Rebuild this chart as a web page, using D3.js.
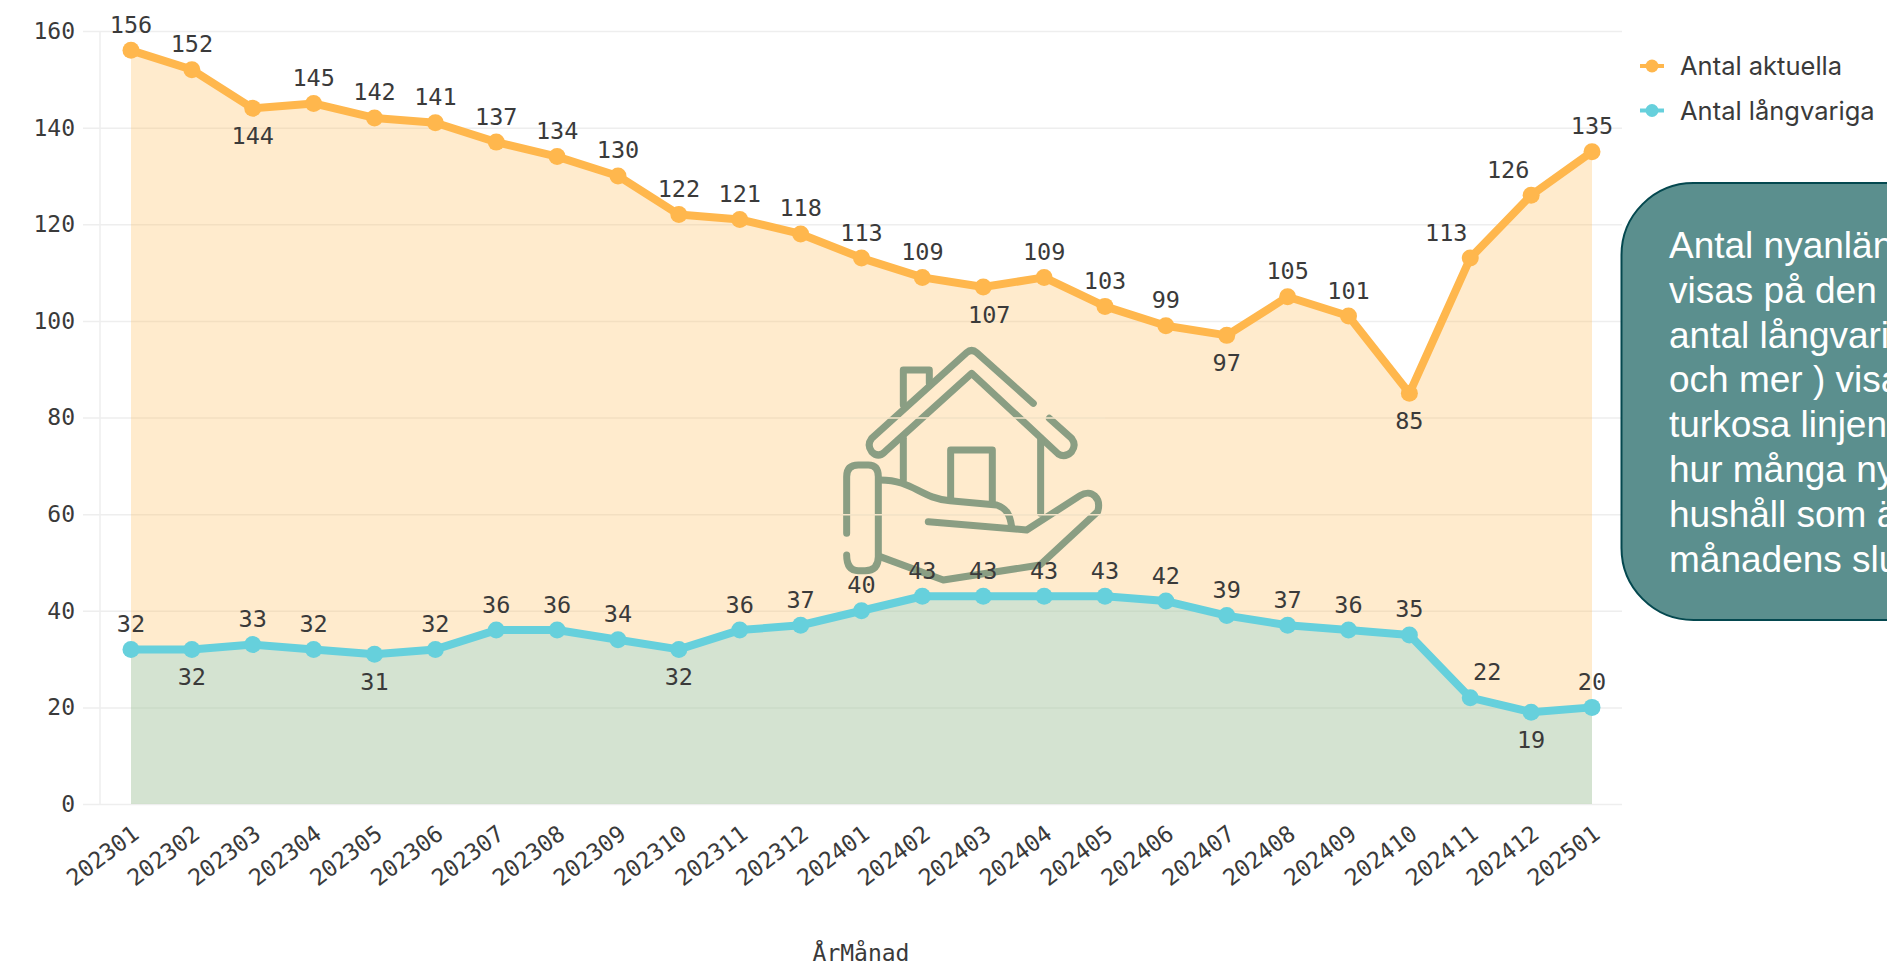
<!DOCTYPE html>
<html>
<head>
<meta charset="utf-8">
<script src="https://cdn.jsdelivr.net/npm/d3@7"></script>
<style>
  html, body { margin: 0; background: #fff; overflow: hidden; }
  text { font-family: "DejaVu Sans Mono", monospace; fill: #3a3a3a; }
</style>
</head>
<body>
<div class="line-chart"></div>
<script>
var months = ["202301", "202302", "202303", "202304", "202305", "202306", "202307", "202308", "202309", "202310", "202311", "202312",
              "202401", "202402", "202403", "202404", "202405", "202406", "202407", "202408", "202409", "202410", "202411", "202412", "202501"];
var current = [156, 152, 144, 145, 142, 141, 137, 134, 130, 122, 121, 118, 113, 109, 107, 109, 103, 99, 97, 105, 101, 85, 113, 126, 135];
var longTerm = [32, 32, 33, 32, 31, 32, 36, 36, 34, 32, 36, 37, 40, 43, 43, 43, 43, 42, 39, 37, 36, 35, 22, 19, 20];
var yTicks = [0, 20, 40, 60, 80, 100, 120, 140, 160];
var seriesNames = ["Antal aktuella", "Antal långvariga"];

// months where the value label sits under the point
var belowCurrent = ["202303", "202403", "202407", "202410"];
var belowLong = ["202302", "202305", "202310", "202412"];

var noteLines = ["Antal nyanlända", "visas på den", "antal långvariga", "och mer ) visas", "turkosa linjen", "hur många ny", "hushåll som ä", "månadens slut"];

var w = 1887;
var h = 971;
var orange = "#ffb74d";
var teal = "#66d0dc";

var x = d3.scalePoint().domain(months).range([131, 1592]);
var y = d3.scaleLinear().domain([0, 160]).range([804, 31]);

var svg = d3.select(".line-chart")
            .append("svg")
            .attr("width", w)
            .attr("height", h)
            .style("display", "block");

// Grid lines
svg.append("g")
   .selectAll("line")
   .data(yTicks)
   .enter()
   .append("line")
   .attr("x1", 83)
   .attr("x2", 1622)
   .attr("y1", function(d) { return y(d) + 0.5; })
   .attr("y2", function(d) { return y(d) + 0.5; })
   .attr("stroke", "#eeeeee")
   .attr("stroke-width", 1.5);

svg.append("line")
   .attr("x1", 100).attr("x2", 100)
   .attr("y1", y(160)).attr("y2", y(0))
   .attr("stroke", "#eeeeee")
   .attr("stroke-width", 1.5);

// Axes
var yAxis = svg.append("g")
               .attr("transform", "translate(75, 0)")
               .call(d3.axisLeft(y).tickValues(yTicks).tickSize(0).tickPadding(0));
yAxis.select(".domain").remove();
yAxis.selectAll("text")
     .style("font-family", "'DejaVu Sans Mono', monospace")
     .style("font-size", "23px")
     .attr("dy", "0.32em");

var xAxis = svg.append("g")
               .attr("transform", "translate(0, 804)")
               .call(d3.axisBottom(x).tickSize(0).tickPadding(0));
xAxis.select(".domain").remove();
xAxis.selectAll("text")
     .style("font-family", "'DejaVu Sans Mono', monospace")
     .style("font-size", "23px")
     .attr("text-anchor", "end")
     .attr("dy", 0)
     .attr("transform", "translate(9, 33) rotate(-37)");

svg.append("text")
   .attr("x", 861)
   .attr("y", 961)
   .attr("text-anchor", "middle")
   .style("font-size", "23px")
   .text("ÅrMånad");

// Filled areas under the lines
function areaFor(values) {
  return d3.area()
           .x(function(d, i) { return x(months[i]); })
           .y0(y(0))
           .y1(function(d) { return y(d); })(values);
}

svg.append("path")
   .attr("d", areaFor(current))
   .attr("fill", "#ffc266")
   .attr("fill-opacity", 0.33);

svg.append("path")
   .attr("d", areaFor(longTerm))
   .attr("fill", teal)
   .attr("fill-opacity", 0.28);

// House in a hand
var icon = svg.append("g")
              .attr("transform", "translate(800, 330) scale(0.3333)")
              .attr("fill", "none")
              .attr("stroke", "#8a9e83")
              .attr("stroke-width", 21)
              .attr("stroke-linecap", "round")
              .attr("stroke-linejoin", "round");

var iconPaths = [
  "M700,220 L530,68 Q515,55 500,68 L215,325 Q200,345 215,365 Q235,385 255,365 L515,130 L775,372 Q795,385 815,365 Q830,345 815,325 L748,265",
  "M310,225 L310,120 L388,120 L388,160",
  "M310,325 L310,450",
  "M722,325 L722,550",
  "M452,505 L452,360 L577,360 L577,515",
  "M240,450 C340,450 360,505 450,512 L590,525 C620,535 630,555 635,590",
  "M385,575 L680,600 L840,497 C875,475 905,505 893,545 L720,705 L430,750 L240,680",
  "M140,610 L140,440 Q140,405 175,405 L205,405 Q235,405 235,440 L235,680 Q235,722 195,722 L175,722 Q140,722 140,675"
];

icon.selectAll("path")
    .data(iconPaths)
    .enter()
    .append("path")
    .attr("d", function(d) { return d; });

// Grid lines run over the icon
svg.append("g")
   .selectAll("line")
   .data([60, 80])
   .enter()
   .append("line")
   .attr("x1", 840)
   .attr("x2", 1105)
   .attr("y1", function(d) { return y(d) + 0.5; })
   .attr("y2", function(d) { return y(d) + 0.5; })
   .attr("stroke", "#f4e4c8")
   .attr("stroke-width", 1.5);

// Lines, points and value labels
function drawSeries(values, color) {
  var line = d3.line()
               .x(function(d, i) { return x(months[i]); })
               .y(function(d) { return y(d); });

  svg.append("path")
     .attr("d", line(values))
     .attr("fill", "none")
     .attr("stroke", color)
     .attr("stroke-width", 8)
     .attr("stroke-linejoin", "round");

  svg.append("g")
     .selectAll("circle")
     .data(values)
     .enter()
     .append("circle")
     .attr("cx", function(d, i) { return x(months[i]); })
     .attr("cy", function(d) { return y(d); })
     .attr("r", 8.5)
     .attr("fill", color);
}

function drawLabels(values, below, nudge) {
  svg.append("g")
     .selectAll("text")
     .data(values)
     .enter()
     .append("text")
     .attr("x", function(d, i) { return x(months[i]) + (nudge[months[i]] || 0); })
     .attr("y", function(d, i) {
       return y(d) + (below.indexOf(months[i]) >= 0 ? 27 : -26);
     })
     .attr("dy", "0.36em")
     .attr("text-anchor", "middle")
     .style("font-size", "23.5px")
     .text(function(d) { return d; });
}

drawSeries(current, orange);
drawSeries(longTerm, teal);
drawLabels(current, belowCurrent, {"202403": 6, "202411": -24, "202412": -23});
drawLabels(longTerm, belowLong, {"202411": 17});

// Legend
var legend = svg.selectAll("g.legend")
                .data(seriesNames)
                .enter()
                .append("g")
                .attr("class", "legend")
                .attr("transform", function(d, i) { return "translate(1640, " + (66 + i * 44.5) + ")"; });

legend.append("line")
      .attr("x1", 0).attr("x2", 24)
      .attr("stroke", function(d, i) { return i == 0 ? orange : teal; })
      .attr("stroke-width", 4);

legend.append("circle")
      .attr("cx", 12)
      .attr("r", 6.5)
      .attr("fill", function(d, i) { return i == 0 ? orange : teal; });

legend.append("text")
      .attr("x", 40)
      .attr("dy", "0.36em")
      .style("font-family", "Inter, sans-serif")
      .style("font-size", "25.5px")
      .text(function(d) { return d; });

// Note box, runs off the right edge of the page
svg.append("rect")
   .attr("x", 1621.5)
   .attr("y", 183)
   .attr("width", 400)
   .attr("height", 437)
   .attr("rx", 72)
   .attr("ry", 72)
   .attr("fill", "#5b8f8e")
   .attr("stroke", "#04484f")
   .attr("stroke-width", 2);

svg.append("g")
   .selectAll("text")
   .data(noteLines)
   .enter()
   .append("text")
   .attr("x", 1669)
   .attr("y", function(d, i) { return 258 + i * 44.8; })
   .style("font-family", "'Liberation Sans', Arial, sans-serif")
   .style("font-size", "37px")
   .style("fill", "#ffffff")
   .text(function(d) { return d; });
</script>
</body>
</html>
